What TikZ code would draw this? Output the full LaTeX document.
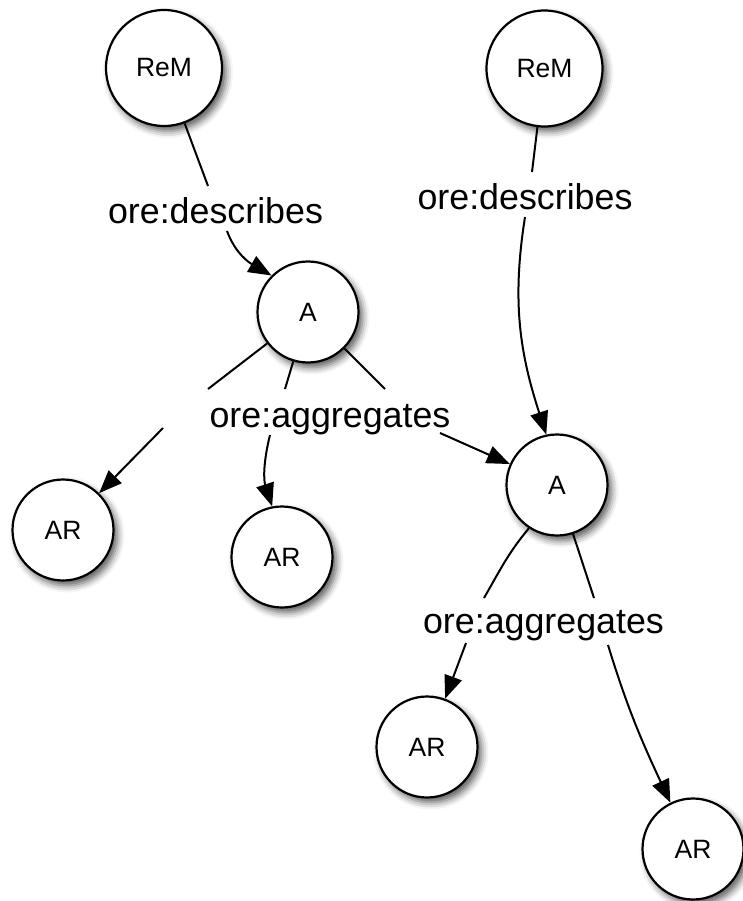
\documentclass[tikz,border=0pt]{standalone}
\usepackage{fontspec}
\setmainfont{Liberation Sans}
\usetikzlibrary{arrows.meta,shadows.blur}
\begin{document}
\begin{tikzpicture}[x=1pt,y=1pt,
  nd/.style={circle,draw,line width=2.2pt,fill=white,minimum size=101pt,inner sep=0pt,
    font=\fontsize{26.5}{30}\selectfont,
    blur shadow={shadow xshift=4pt,shadow yshift=-5pt,shadow blur radius=7pt,shadow opacity=65}},
  bignd/.style={nd,minimum size=116pt},
  lbl/.style={font=\fontsize{35.8}{40}\selectfont,inner sep=0pt,anchor=base},
  edge/.style={line width=2pt},
  arr/.style={edge,-{Triangle[length=23pt,width=18pt]}}]
\useasboundingbox (0,0) rectangle (743,-901);

% nodes
\node[bignd] (rem1) at (164,-68) {ReM};
\node[bignd] (rem2) at (544.5,-68.5) {ReM};
\node[nd] (a1) at (308,-312) {A};
\node[nd] (a2) at (557,-485) {A};
\node[nd] (ar1) at (63,-530) {AR};
\node[nd] (ar2) at (282,-557) {AR};
\node[nd] (ar3) at (427,-747) {AR};
\node[nd] (ar4) at (693,-849) {AR};

% labels
\node[lbl] (l1) at (215.5,-223) {ore:describes};
\node[lbl] (l2) at (525,-209.5) {ore:describes};
\node[lbl] (l3) at (330,-427) {ore:aggregates};
\node[lbl] (l4) at (543.5,-633) {ore:aggregates};

% gap coordinates
\coordinate (e1a) at (208,-186);
\coordinate (e1b) at (227,-231);
\coordinate (e2a) at (532,-172);
\coordinate (e2b) at (525,-217);
\coordinate (e3a) at (208,-389);
\coordinate (e3b) at (163,-428);
\coordinate (e4a) at (285,-389);
\coordinate (e4b) at (270,-435);
\coordinate (e5a) at (385,-389);
\coordinate (e5b) at (440,-433);
\coordinate (e6a) at (484,-598);
\coordinate (e6b) at (466,-643);
\coordinate (e7a) at (594,-598);
\coordinate (e7b) at (608,-645);

% edges
\draw[edge] (rem1) -- (e1a);
\draw[arr] (e1b) to[out=-70,in=150] (a1.135);

\draw[edge] (rem2) -- (e2a);
\draw[arr] (e2b) to[out=-99,in=108] (a2.102);

\draw[edge] (a1) -- (e3a);
\draw[arr] (e3b) -- (ar1);

\draw[edge] (a1) -- (e4a);
\draw[arr] (e4b) to[out=-104,in=108] (ar2.101);

\draw[edge] (a1) -- (e5a);
\draw[arr] (e5b) -- (a2);

\draw[edge] (a2.237) to[out=-130,in=60] (e6a);
\draw[arr] (e6b) -- (ar3);

\draw[edge] (a2) -- (e7a);
\draw[arr] (e7b) to[out=-73,in=115] (ar4.116);
\end{tikzpicture}
\end{document}
